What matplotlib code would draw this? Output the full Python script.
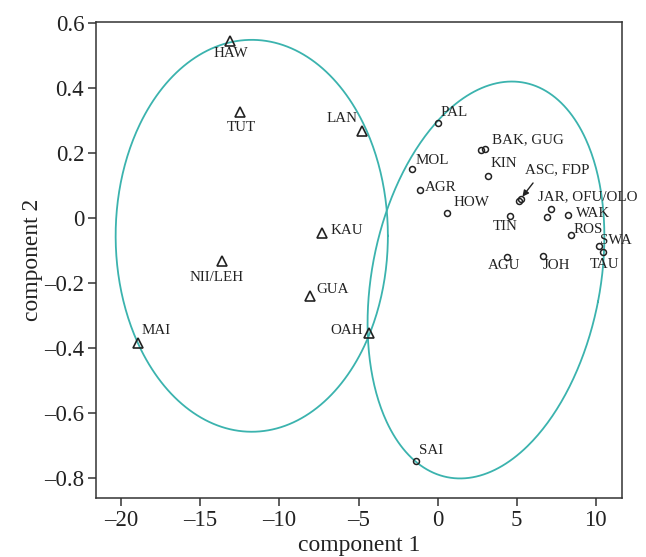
import numpy as np
import matplotlib
matplotlib.use("Agg")
import matplotlib.pyplot as plt

# island groups: triangles (left cluster), circles (right cluster)
tri_names = ["HAW", "TUT", "LAN", "KAU", "NII/LEH", "GUA", "MAI", "OAH"]
tri_x = [-13.15, -12.47, -4.75, -7.34, -13.63, -8.04, -18.95, -4.33]
tri_y = [0.546, 0.325, 0.269, -0.047, -0.134, -0.240, -0.386, -0.355]

circ_names = ["PAL", "BAK", "GUG", "MOL", "KIN", "AGR", "ASC", "FDP", "HOW",
              "JAR", "OFU/OLO", "TIN", "WAK", "ROS", "SWA", "TAU", "AGU", "JOH", "SAI"]
circ_x = [0.04, 2.74, 3.01, -1.61, 3.20, -1.12, 5.15, 5.25, 0.60,
          7.15, 6.94, 4.58, 8.23, 8.46, 10.19, 10.44, 4.37, 6.65, -1.39]
circ_y = [0.291, 0.209, 0.212, 0.152, 0.128, 0.086, 0.052, 0.058, 0.016,
          0.028, 0.002, 0.007, 0.010, -0.051, -0.086, -0.106, -0.119, -0.116, -0.748]

x_ticks = [-20, -15, -10, -5, 0, 5, 10]
y_ticks = [-0.8, -0.6, -0.4, -0.2, 0, 0.2, 0.4, 0.6]

# label text, anchor point, offset in points, horizontal alignment
tri_labels = [
    ("HAW", "HAW", (1.2, -9.6), "center"),
    ("TUT", "TUT", (0.9, -10.6), "center"),
    ("LAN", "LAN", (-3.6, 8.4), "right"),
    ("KAU", "KAU", (6.5, 1.9), "left"),
    ("NII/LEH", "NII/LEH", (-3.8, -11.5), "center"),
    ("GUA", "GUA", (4.3, 4.3), "left"),
    ("MAI", "MAI", (2.9, 8.9), "left"),
    ("OAH", "OAH", (-4.3, 1.7), "right"),
]
circ_labels = [
    ("PAL", "PAL", (1.7, 7.6), "left"),
    ("BAK, GUG", "BAK", (7.7, 7.7), "left"),
    ("MOL", "MOL", (2.7, 5.8), "left"),
    ("KIN", "KIN", (1.7, 9.4), "left"),
    ("AGR", "AGR", (3.8, 1.9), "left"),
    ("ASC, FDP", "ASC", (4.5, 22.3), "left"),
    ("HOW", "HOW", (4.3, 7.2), "left"),
    ("JAR, OFU/OLO", "JAR", (-8.9, 8.4), "left"),
    ("TIN", "TIN", (-3.6, -7.9), "center"),
    ("WAK", "WAK", (5.8, 0.5), "left"),
    ("ROS", "ROS", (1.4, 3.9), "left"),
    ("SWA", "SWA", (0.9, 3.8), "left"),
    ("TAU", "TAU", (1.7, -8.4), "center"),
    ("AGU", "AGU", (-1.7, -6.5), "center"),
    ("JOH", "JOH", (10.1, -7.4), "center"),
    ("SAI", "SAI", (2.4, 7.9), "left"),
]

# ellipses: centre, semi-axes in pixels, tilt (deg, in screen space)
PX_X, PX_Y = 15.8, 325.0
ell_left = dict(cx=-11.75, cy=-0.055, a=196, b=136, tilt=0)
ell_right = dict(cx=3.06, cy=-0.191, a=201, b=114, tilt=11)

TEAL = "#3bb3ae"
INK = "#222222"

plt.rcParams["font.family"] = ["Liberation Serif", "DejaVu Serif"]

fig = plt.figure(figsize=(6.46, 5.57), dpi=100)
ax = fig.add_axes([0.1486, 0.1059, 0.8142, 0.8546])


def ellipse_xy(e):
    t = np.linspace(0, 2 * np.pi, 400)
    th = np.radians(e["tilt"])
    X = e["b"] * np.cos(t) * np.cos(th) + e["a"] * np.sin(t) * np.sin(th)
    Y = -e["b"] * np.cos(t) * np.sin(th) + e["a"] * np.sin(t) * np.cos(th)
    return e["cx"] + X / PX_X, e["cy"] + Y / PX_Y


for e in (ell_left, ell_right):
    ex, ey = ellipse_xy(e)
    ax.plot(ex, ey, color=TEAL, lw=1.3, zorder=1)

ax.plot(tri_x, tri_y, linestyle="none", marker="^", ms=6.5, mfc="none",
        mec=INK, mew=1.2, zorder=3)
ax.plot(circ_x, circ_y, linestyle="none", marker="o", ms=4.3, mfc="none",
        mec=INK, mew=1.1, zorder=3)

tri_pos = dict(zip(tri_names, zip(tri_x, tri_y)))
circ_pos = dict(zip(circ_names, zip(circ_x, circ_y)))

for text, key, off, ha in tri_labels:
    ax.annotate(text, tri_pos[key], xytext=off, textcoords="offset points",
                ha=ha, va="center", fontsize=10.8, color=INK)
for text, key, off, ha in circ_labels:
    ax.annotate(text, circ_pos[key], xytext=off, textcoords="offset points",
                ha=ha, va="center", fontsize=10.8, color=INK)

# arrow pointing at ASC/FDP
ax.annotate("", circ_pos["ASC"], xytext=(10.1, 13), textcoords="offset points",
            arrowprops=dict(arrowstyle="-|>", color=INK, lw=1.0,
                            shrinkA=0, shrinkB=4, mutation_scale=9))

ax.set_xlim(-21.6, 11.66)
ax.set_ylim(-0.862, 0.603)
ax.set_xticks(x_ticks)
ax.set_xticklabels([str(v).replace("-", "\u2013") for v in x_ticks])
ax.set_yticks(y_ticks)
ax.set_yticklabels(["0" if v == 0 else f"{v:.1f}".replace("-", "\u2013") for v in y_ticks])

ax.tick_params(direction="out", length=6, width=1.1, color="#333333",
               labelsize=16.5, pad=2.5, labelcolor=INK)
for s in ax.spines.values():
    s.set_color("#333333")
    s.set_linewidth(1.1)

ax.set_xlabel("component 1", fontsize=17, color=INK, labelpad=3)
ax.set_ylabel("component 2", fontsize=17, color=INK, labelpad=1)

fig.savefig("out.png", dpi=100)
